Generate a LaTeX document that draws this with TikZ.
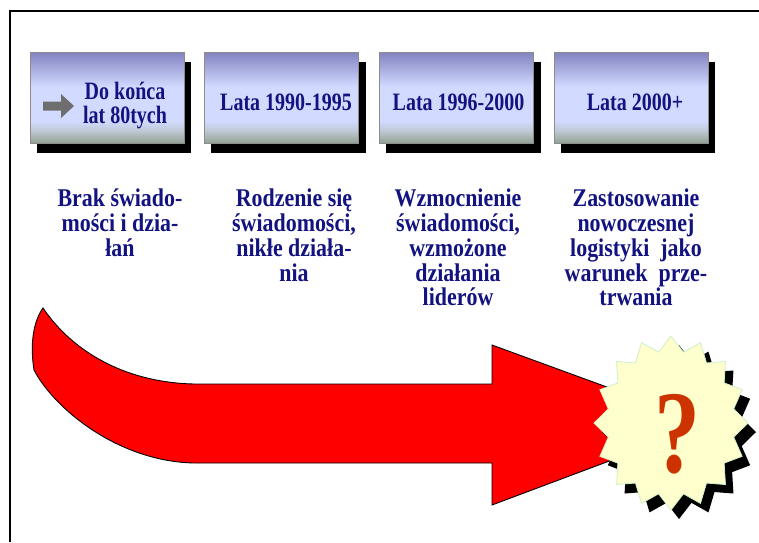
\documentclass[tikz,border=0pt]{standalone}
\usepackage{fontspec}
\usetikzlibrary{backgrounds}
\newfontfamily\boxfont{Liberation Serif}[FakeStretch=0.8]
\newfontfamily\txtfont{Liberation Serif}[FakeStretch=0.86]
\newfontfamily\qfont{Liberation Serif}[FakeStretch=0.78]
\definecolor{navy}{RGB}{18,18,128}
\definecolor{boxtop}{RGB}{130,130,192}
\definecolor{boxmid}{RGB}{210,218,255}
\definecolor{boxlow}{RGB}{192,202,214}
\definecolor{boxbot}{RGB}{146,162,146}
\definecolor{boxedge}{RGB}{140,140,140}
\definecolor{starfill}{RGB}{255,255,206}
\definecolor{starline}{RGB}{206,240,200}
\definecolor{qcol}{RGB}{204,51,0}
\definecolor{arrowgray}{RGB}{110,110,110}
\pgfdeclareverticalshading{boxshade}{100bp}{color(0bp)=(boxbot); color(25bp)=(boxbot); color(32bp)=(boxlow); color(37bp)=(boxmid); color(56bp)=(boxmid); color(75bp)=(boxtop); color(100bp)=(boxtop)}
\begin{document}
\begin{tikzpicture}[x=1pt,y=-1pt,
  tbox/.style={rectangle, draw=boxedge, line width=0.8pt, shading=boxshade, minimum width=154pt, minimum height=91pt, inner sep=0pt},
  boxlabel/.style={text=navy, font=\boxfont\bfseries\fontsize{25}{24}\selectfont, inner sep=0pt, align=center},
  desc/.style={text=navy, font=\txtfont\bfseries\fontsize{25.5}{24.7}\selectfont, align=center, inner sep=0pt, anchor=north},
  shadowfill/.style={fill=black}
]
\useasboundingbox (0,0) rectangle (759,542);
% frame
\draw[line width=2pt] (9.5,542) -- (9.5,10.5) -- (759,10.5);

% boxes
\node[tbox] (b1) at (107,97.5) {};
\node[tbox] (b2) at (281.5,97.5) {};
\node[tbox] (b3) at (456.5,97.5) {};
\node[tbox] (b4) at (631,97.5) {};
\begin{pgfonlayer}{background}
\foreach \b in {b1,b2,b3,b4}{
  \fill[shadowfill] ([shift={(7,10)}]\b.south west) rectangle ([shift={(7,10)}]\b.north east);
}
\end{pgfonlayer}

% box labels
\fill[arrowgray] (43,101.5) -- (61,101.5) -- (61,94) -- (74,106) -- (61,118) -- (61,110.5) -- (43,110.5) -- cycle;
\node[boxlabel, anchor=north] (l1) at (125,82) {Do końca\\lat 80tych};
\node[boxlabel, anchor=base] (l2) at (286,110) {Lata 1990-1995};
\node[boxlabel, anchor=base] (l3) at (458.5,110) {Lata 1996-2000};
\node[boxlabel, anchor=base] (l4) at (635,110) {Lata 2000+};

% descriptions
\node[desc] (d1) at (120,189) {Brak świado-\\mości i dzia-\\łań};
\node[desc] (d2) at (294,189) {Rodzenie się\\świadomości,\\nikłe działa-\\nia};
\node[desc] (d3) at (458,189) {Wzmocnienie\\świadomości,\\wzmożone\\działania\\liderów};
\node[desc] (d4) at (636,189) {Zastosowanie\\nowoczesnej\\logistyki\ \ jako\\warunek\ \ prze-\\trwania};

% red arrow
\draw[fill=red, line width=0.9pt, line join=miter] (43,308) .. controls (75,355) and (130,383) .. (195,384) -- (492,384) -- (492,345) -- (708,424) -- (492,505) -- (492,463) -- (195,463) .. controls (120,462) and (55,410) .. (34,370) .. controls (30,345) and (33,322) .. (43,308) -- cycle;

% star shadow
\fill[black] (679,345) \foreach \i [evaluate=\i as \r using {isodd(\i)?0.83:1}] in {1,...,31}{ -- ({679+77*\r*sin(\i*11.25)},{432-87*\r*cos(\i*11.25)}) } -- cycle;
% star
\filldraw[fill=starfill, draw=starline, line width=0.8pt] (671,336) \foreach \i [evaluate=\i as \r using {isodd(\i)?0.83:1}] in {1,...,31}{ -- ({671+77*\r*sin(\i*11.25)},{423-87*\r*cos(\i*11.25)}) } -- cycle;
\node[text=qcol, font=\qfont\bfseries\fontsize{118}{118}\selectfont, inner sep=0pt, anchor=base] (q) at (677,472) {?};
\end{tikzpicture}
\end{document}
